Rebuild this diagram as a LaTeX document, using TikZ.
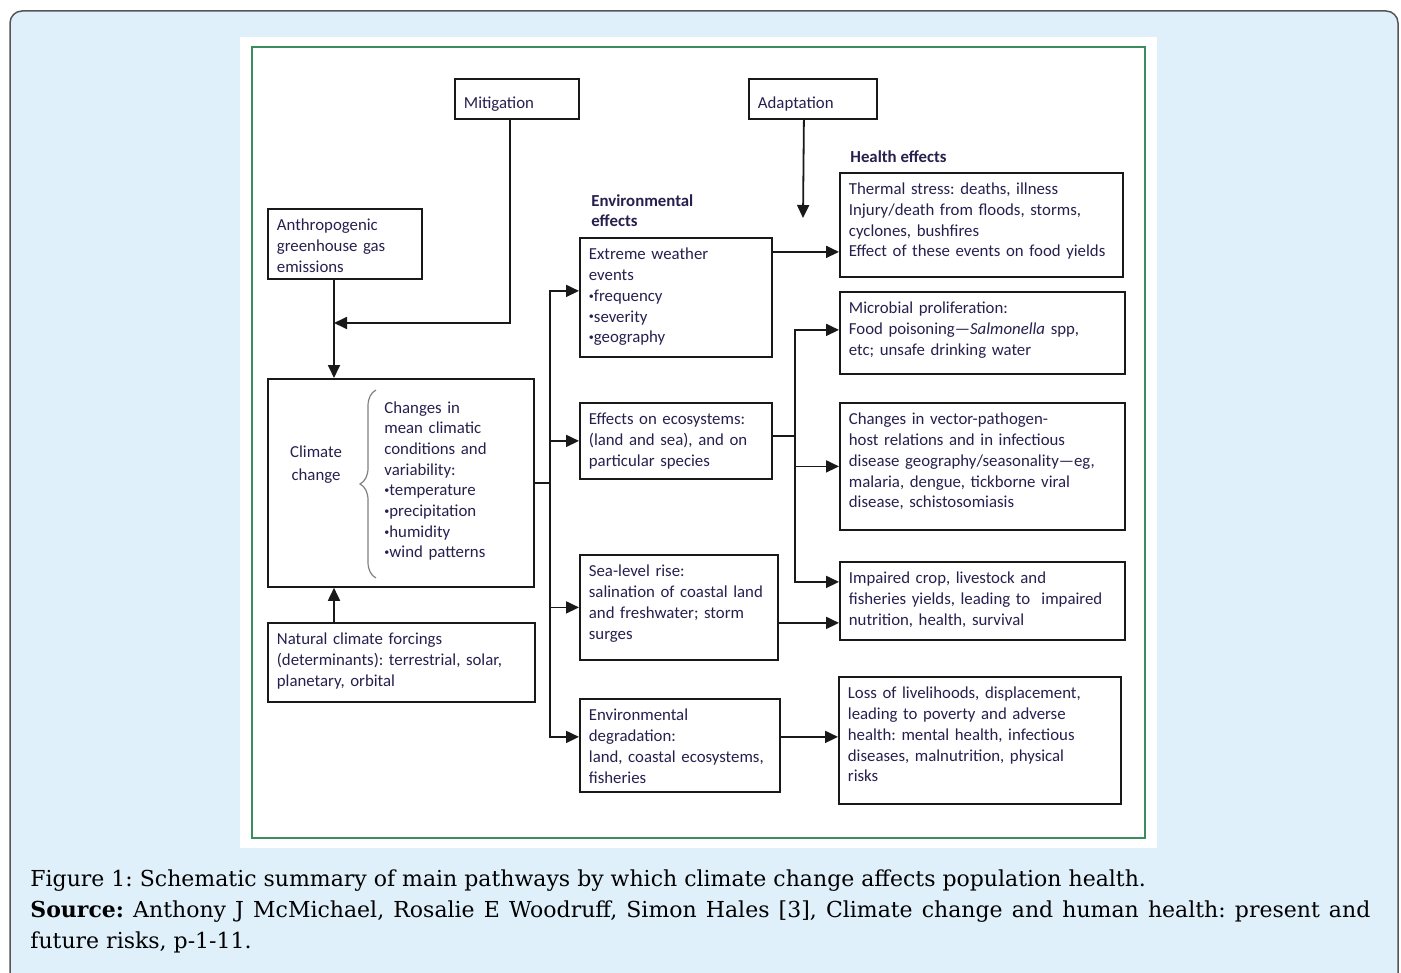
\documentclass[tikz,border=0pt]{standalone}
\usepackage{fontspec}
\setmainfont{Carlito}
\newfontfamily\capfont{DejaVu Serif}
\usepackage{tikz}
\usetikzlibrary{arrows.meta}
\usetikzlibrary{decorations.pathreplacing}
\usepackage{xcolor}
\definecolor{panel}{RGB}{223,240,251}
\definecolor{rim}{RGB}{85,85,85}
\definecolor{frame}{RGB}{60,140,95}
\definecolor{ink}{RGB}{38,32,78}
\definecolor{wirec}{RGB}{25,25,25}
\newcommand\bul{\raisebox{.25ex}{\scalebox{.6}{•}}}
\frenchspacing

\begin{document}
\begin{tikzpicture}[x=0.5pt,y=-0.5pt,
  box/.style={draw=wirec, line width=0.9pt, anchor=north west, inner xsep=4.5pt, inner ysep=4.5pt,
    text height=6.5pt, align=left, text=ink, font=\fontsize{8.4}{10.35}\selectfont},
  head/.style={anchor=north west, inner sep=0pt, align=left, text=ink, font=\fontsize{8.4}{10.2}\selectfont\bfseries},
  wire/.style={draw=wirec, line width=0.9pt},
  arr/.style={wire, -{Triangle[length=6.5pt,width=6pt]}}]
\useasboundingbox (0,0) rectangle (1401,973);
% panels
\draw[rim, line width=0.75pt, fill=panel, rounded corners=6pt] (10,11) rectangle (1398,1010);
\fill[white] (240,37) rectangle (1157,848);
\draw[frame, line width=1pt] (252,47) rectangle (1145,838);

% left column
\node[box, text width=53pt, text height=10.5pt, text depth=0.5pt] (mit) at (454,78) {Mitigation};
\node[box, text width=55pt, text height=10.5pt, text depth=0.5pt] (ada) at (748,78) {Adaptation};
\node[box, text width=68pt, text depth=19.5pt] (ghg) at (267,208) {Anthropogenic\\greenhouse gas\\emissions};
\node[draw=wirec, line width=0.9pt, anchor=north west, minimum width=133pt, minimum height=104pt, inner sep=0pt] (cc) at (267,378) {};
\node[align=center, text=ink, font=\fontsize{8.4}{11.5}\selectfont] (cclabel) at (316,465) {Climate\\change};
\node[anchor=base west, inner sep=0pt, text width=70pt, align=left, text=ink, font=\fontsize{8.4}{10.35}\selectfont] (cclist) at (384,413)
  {Changes in\\mean climatic\\conditions and\\variability:\\\bul temperature\\\bul precipitation\\\bul humidity\\\bul wind patterns};
\draw[decorate, decoration={brace, amplitude=8pt}, gray, line width=0.6pt] (376,578) -- (376,390);
\node[box, text width=124.5pt, text depth=24pt] (nat) at (267,622) {Natural climate forcings\\(determinants): terrestrial, solar,\\planetary, orbital};

% environmental effects
\node[head] (envhead) at (591,194) {Environmental\\effects};
\node[box, text width=87pt, text depth=44pt] (ext) at (579,237) {Extreme weather\\events\\\bul frequency\\\bul severity\\\bul geography};
\node[box, text width=87pt, text depth=22.5pt] (eco) at (579,402) {Effects on ecosystems:\\(land and sea), and on\\particular species};
\node[box, text width=90pt, text depth=37pt] (sea) at (579,554) {Sea-level rise:\\salination of coastal land\\and freshwater; storm\\surges};
\node[box, text width=91pt, text depth=31pt] (deg) at (579,698) {Environmental\\degradation:\\land, coastal ecosystems,\\fisheries};

% health effects
\node[head] (hlthead) at (850,150) {Health effects};
\node[box, text width=132.5pt, text depth=36.5pt] (the) at (839,172) {Thermal stress: deaths, illness\\Injury/death from floods, storms,\\cyclones, bushfires\\Effect of these events on food yields};
\node[box, text width=133.5pt, text depth=25.5pt] (mic) at (839,291) {Microbial proliferation:\\Food poisoning---\textit{Salmonella} spp,\\etc; unsafe drinking water};
\node[box, text width=133.5pt, text depth=48pt] (vec) at (839,402) {Changes in vector-pathogen-\\host relations and in infectious\\disease geography/seasonality---eg,\\malaria, dengue, tickborne viral\\disease, schistosomiasis};
\node[box, text width=133.5pt, text depth=23.5pt] (imp) at (839,561) {Impaired crop, livestock and\\fisheries yields, leading to~ impaired\\nutrition, health, survival};
\node[box, text width=132pt, text depth=48pt] (loss) at (838,676) {Loss of livelihoods, displacement,\\leading to poverty and adverse\\health: mental health, infectious\\diseases, malnutrition, physical\\risks};

% connectors
\coordinate (join) at (334,323);
\coordinate (adaend) at (803,218);
\coordinate (busL) at (550,483);
\coordinate (busR) at (795,436);
\draw[arr] (join |- ghg.south) -- (join |- cc.north);
\draw[arr] ([xshift=-3.5pt]mit.south) |- (join);
\draw[arr] (join |- nat.north) -- (join |- cc.south);
\draw[arr] ([xshift=-4.5pt]ada.south) -- (adaend);
\draw[wire] (cc.east) -- (busL);
\draw[arr] (busL) |- ([yshift=3.25pt]ext.west);
\draw[arr] (busL) |- (eco.west);
\draw[arr] (busL) |- (sea.west);
\draw[arr] (busL) |- ([yshift=4.25pt]deg.west);
\draw[arr] ([yshift=22.75pt]ext.east) -- ([yshift=-13.5pt]the.west);
\draw[wire] (eco.east |- busR) -- (busR);
\draw[arr] (busR) |- ([yshift=1.5pt]mic.west);
\draw[arr] (busR) |- (vec.west);
\draw[arr] (busR) |- ([yshift=9.5pt]imp.west);
\draw[arr] ([yshift=-7.75pt]sea.east) -- ([yshift=-11pt]imp.west);
\draw[arr] ([yshift=4.25pt]deg.east) -- ([yshift=1.75pt]loss.west);

% caption
\node[anchor=base west, inner sep=0pt, font=\capfont\fontsize{11}{15.5}\selectfont] (cap1) at (30,886)
  {Figure 1: Schematic summary of main pathways by which climate change affects population health.};
\node[anchor=base west, inner sep=0pt, font=\capfont\fontsize{11}{15.5}\selectfont] (cap2) at (30,917)
  {\makebox[670pt][s]{\textbf{Source:} Anthony J McMichael, Rosalie E Woodruff, Simon Hales [3], Climate change and human health: present and}};
\node[anchor=base west, inner sep=0pt, font=\capfont\fontsize{11}{15.5}\selectfont] (cap3) at (30,948)
  {future risks, p-1-11.};
\end{tikzpicture}
\end{document}
